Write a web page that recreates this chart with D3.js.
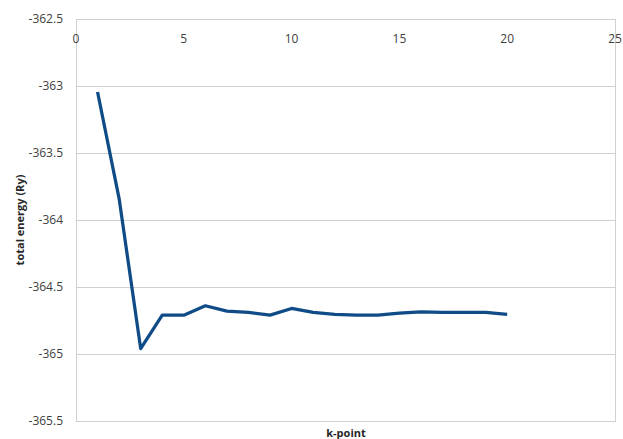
<!DOCTYPE html>
<html><head><meta charset="utf-8">
<script src="https://cdn.jsdelivr.net/npm/d3@7"></script>
<style>body{margin:0;background:#fff;} text{font-family:"Open Sans","Liberation Sans",sans-serif;}</style>
</head><body>
<svg id="c" width="623" height="439"></svg>
<script>
const kpoints = [1,2,3,4,5,6,7,8,9,10,11,12,13,14,15,16,17,18,19,20];
const energy = [-363.045,-363.84,-364.96,-364.71,-364.71,-364.64,-364.68,-364.69,-364.71,-364.66,-364.69,-364.705,-364.71,-364.71,-364.695,-364.685,-364.69,-364.69,-364.69,-364.705];
const xTicks = [0,5,10,15,20,25];
const yTicks = [-362.5,-363,-363.5,-364,-364.5,-365,-365.5];

const svg = d3.select("#c");
const L=76, R=615, T=19, B=421;
const x = d3.scaleLinear().domain([0,25]).range([L,R]);
const y = d3.scaleLinear().domain([-365.5,-362.5]).range([B,T]);

// gridlines
svg.append("g").selectAll("line").data(yTicks).join("line")
  .attr("x1",L).attr("x2",R).attr("y1",d=>y(d)).attr("y2",d=>y(d))
  .attr("stroke","#d0d0d0").attr("stroke-width",1).attr("shape-rendering","crispEdges");
// border
svg.append("rect").attr("x",L).attr("y",T).attr("width",R-L).attr("height",B-T)
  .attr("fill","none").attr("stroke","#d0d0d0").attr("shape-rendering","crispEdges");

// y tick labels
svg.append("g").selectAll("text").data(yTicks).join("text")
  .attr("x",63).attr("y",d=>y(d)).attr("dy","0.35em").attr("text-anchor","end")
  .attr("font-size",12).attr("fill","#404040").text(d=>String(d));
// x tick labels (top)
svg.append("g").selectAll("text").data(xTicks).join("text")
  .attr("x",d=>x(d)).attr("y",43).attr("text-anchor","middle")
  .attr("font-size",12).attr("fill","#404040").text(d=>String(d));

// line
const line = d3.line().x((d,i)=>x(kpoints[i])).y(d=>y(d));
svg.append("path").datum(energy).attr("d",line).attr("fill","none")
  .attr("stroke","#0f4b87").attr("stroke-width",3.25).attr("stroke-linejoin","round");

// axis titles
svg.append("text").attr("x",346).attr("y",437).attr("text-anchor","middle")
  .attr("font-size",11).attr("font-weight","bold").attr("fill","#262626").text("k-point");
svg.append("text").attr("transform","translate(24,220) rotate(-90)").attr("text-anchor","middle")
  .attr("font-size",11).attr("font-weight","bold").attr("fill","#262626").text("total energy (Ry)");
</script>
</body></html>
